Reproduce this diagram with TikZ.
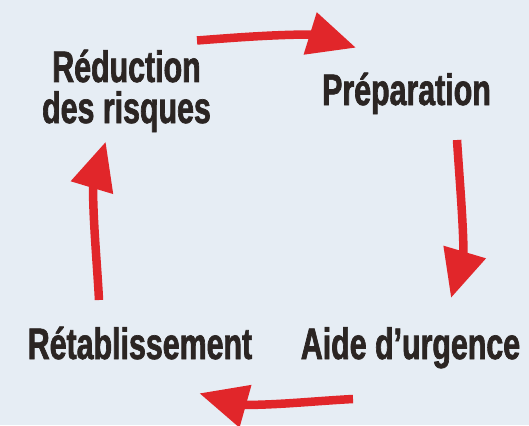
\documentclass[tikz,border=0pt]{standalone}
\usepackage{fontspec}
\setmainfont{Liberation Sans}[FakeStretch=0.69,FakeBold=1.5]
\usetikzlibrary{arrows.meta}
\definecolor{bg}{HTML}{E6EDF4}
\definecolor{arr}{HTML}{E1262A}
\definecolor{ink}{HTML}{2B2523}
\begin{document}
\begin{tikzpicture}[x=1pt,y=-1pt,
  lbl/.style={font=\fontsize{44}{41}\selectfont\bfseries, text=ink, inner sep=0pt, align=center, anchor=base},
  cyc/.style={draw=arr, line width=8.5pt, -{Triangle[length=48pt,width=42pt]}}]
\fill[bg] (0,0) rectangle (529,425);
\useasboundingbox (0,0) rectangle (529,425);
\node[lbl] (red) at (126.5,123) {Réduction\\des risques};
\node[lbl] (prep) at (406.5,105) {Préparation};
\node[lbl] (aide) at (410.5,359) {Aide d’urgence};
\node[lbl] (reta) at (140,359) {Rétablissement};
% arrow ends: start, joint at head, tip
\coordinate (a1s) at (197,40.5);  \coordinate (a1j) at (313.5,34.5);  \coordinate (a1e) at (356,47.7);
\coordinate (a2s) at (457,140);   \coordinate (a2j) at (463.5,256);   \coordinate (a2e) at (451,298);
\coordinate (a3s) at (353,399);   \coordinate (a3j) at (241,405);     \coordinate (a3e) at (199.3,393.3);
\coordinate (a4s) at (99,300);    \coordinate (a4j) at (93,184);      \coordinate (a4e) at (105.7,141.7);
\draw[cyc] (a1s) .. controls (236,37.5) and (275,34.5) .. (a1j) -- (a1e);
\draw[cyc] (a2s) .. controls (459.5,179) and (463.5,225) .. (a2j) -- (a2e);
\draw[cyc] (a3s) .. controls (315,401) and (279,405) .. (a3j) -- (a3e);
\draw[cyc] (a4s) .. controls (97,262) and (93,222) .. (a4j) -- (a4e);
\end{tikzpicture}
\end{document}
